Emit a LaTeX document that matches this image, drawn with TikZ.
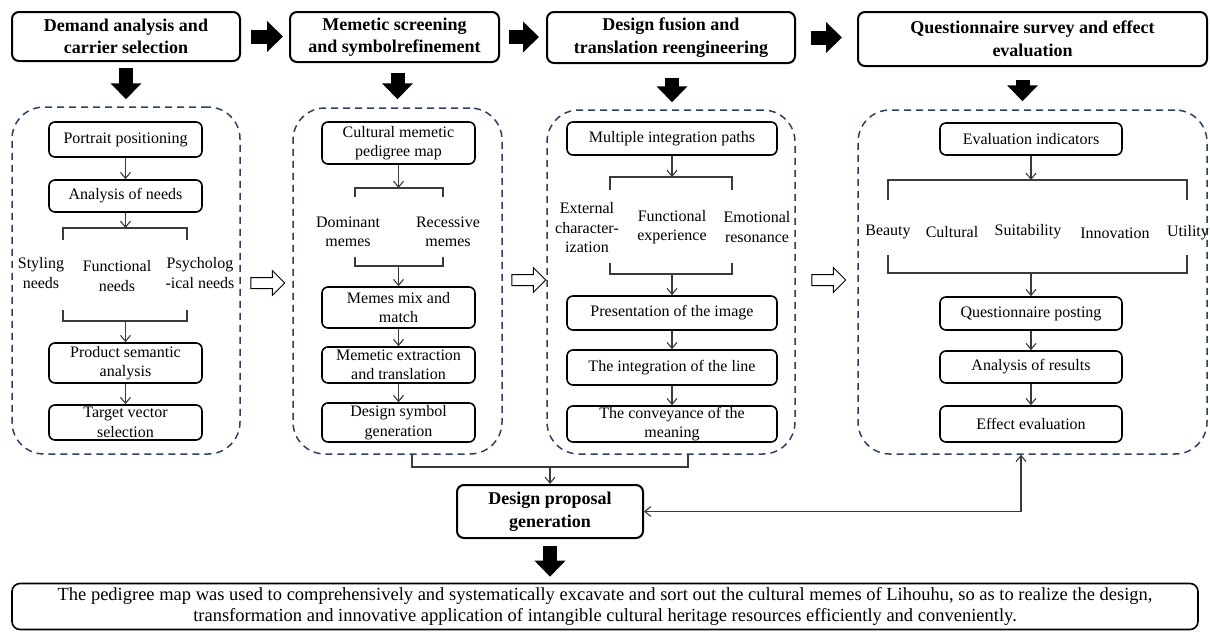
\documentclass[tikz,border=0pt]{standalone}
\usepackage{fontspec}
\setmainfont{Liberation Serif}
\usetikzlibrary{arrows.meta,shapes.arrows}
\definecolor{navy}{HTML}{2C4063}
\definecolor{lgray}{HTML}{3A3A3A}
\newcommand\myBody{\fontsize{16}{19.5}\selectfont}
\newcommand\myHead{\bfseries\fontsize{18}{22.5}\selectfont}
\newcommand\myFoot{\fontsize{18.5}{20.5}\selectfont}
\tikzset{
 box/.style={draw=black, line width=1.6pt, rounded corners=6pt, align=center, inner sep=0pt, font=\myBody},
 head/.style={draw=black, line width=2pt, rounded corners=7pt, align=center, inner sep=0pt, font=\myHead},
 cont/.style={draw=navy, line width=1.5pt, dash pattern=on 7pt off 5pt, rounded corners=32pt, inner sep=0pt},
 arr/.style={draw=lgray, line width=1.1pt, -{Straight Barb[length=6pt,width=10pt]}},
 dbl/.style={draw=lgray, line width=1.1pt, {Straight Barb[length=6pt,width=10pt]}-{Straight Barb[length=6pt,width=10pt]}},
 ln/.style={draw=lgray, line width=1.1pt},
 lab/.style={align=center, font=\myBody, inner sep=0pt},
 bigarr/.style={draw=black, line width=14pt, -{Triangle[width=30pt,length=16pt]}},
 hollow/.style={single arrow, draw=black, fill=white, line width=1pt, minimum height=34pt, inner sep=5pt, single arrow head extend=7pt, single arrow head indent=0pt},
}
\begin{document}
\begin{tikzpicture}[x=1pt,y=-1pt]
\useasboundingbox (0,0) rectangle (1210,632);
% headers
\node[head, minimum width=228, minimum height=49] (h1) at (126,36.5) {Demand analysis and\\carrier selection};
\node[head, minimum width=209, minimum height=50] (h2) at (394.5,37) {Memetic screening\\and symbolrefinement};
\node[head, minimum width=248, minimum height=51] (h3) at (671,37.5) {Design fusion and\\translation reengineering};
\node[head, minimum width=349, minimum height=54] (h4) at (1032.5,39) {Questionnaire survey and effect\\evaluation};
% containers
\node[cont, minimum width=228, minimum height=347] (c1) at (126,280.5) {};
\node[cont, minimum width=209, minimum height=346] (c2) at (397.5,281) {};
\node[cont, minimum width=248, minimum height=344] (c3) at (671,282) {};
\node[cont, minimum width=349, minimum height=344] (c4) at (1032.5,282) {};
% header arrows
\draw[bigarr, shorten <=10pt, shorten >=6pt] (h1.east) -- (h1.east -| h2.west);
\draw[bigarr, shorten <=9pt, shorten >=7pt] (h2.east) -- (h2.east -| h3.west);
\draw[bigarr, shorten <=15pt, shorten >=15pt] (h3.east) -- (h3.east -| h4.west);
\draw[bigarr, shorten <=6pt, shorten >=7pt] (h1.south) -- (c1.north);
\draw[bigarr, shorten <=10pt, shorten >=8pt] (h2.south -| c2.north) -- (c2.north);
\draw[bigarr, shorten <=14pt, shorten >=7pt] ([xshift=1pt]h3.south) -- ([xshift=1pt]c3.north);
\draw[bigarr, shorten <=13pt, shorten >=8pt] ([xshift=-10pt]h4.south) -- ([xshift=-10pt]c4.north);
% hollow arrows
\node[hollow] (ha1) at (265,283) {};
\node[hollow] (ha2) at (526,280) {};
\node[hollow] (ha3) at (826,280) {};
% column 1
\node[box, minimum width=153, minimum height=35] (p1) at (125.5,139.5) {Portrait positioning};
\node[box, minimum width=153, minimum height=32] (p2) at (125.5,196) {Analysis of needs};
\node[box, minimum width=153, minimum height=40] (p3) at (125.5,363) {Product semantic\\analysis};
\node[box, minimum width=153, minimum height=35] (p4) at (125.5,422.5) {Target vector\\selection};
\coordinate (b1t) at (125.5,228);
\coordinate (b1b) at (125.5,321);
\draw[arr] (p1) -- (p2);
\draw[arr] (p2) -- (b1t);
\draw[ln] (63,240) -- (63,228) -- (187,228) -- (187,240);
\node[lab] (l11) at (41,273) {Styling\\needs};
\node[lab] (l12) at (117,276) {Functional\\needs};
\node[lab] (l13) at (200,273) {Psycholog\\-ical needs};
\draw[ln] (63,310) -- (63,321) -- (187,321) -- (187,310);
\draw[arr] (b1b) -- (p3);
\draw[arr] (p3) -- (p4);
% column 2
\node[box, minimum width=153, minimum height=42] (m1) at (398.5,143) {Cultural memetic\\pedigree map};
\node[box, minimum width=153, minimum height=41] (m2) at (398.5,307.5) {Memes mix and\\match};
\node[box, minimum width=153, minimum height=36] (m3) at (398.5,365) {Memetic extraction\\and translation};
\node[box, minimum width=153, minimum height=39] (m4) at (398.5,422.5) {Design symbol\\generation};
\coordinate (b2t) at (398.5,188);
\coordinate (b2b) at (398.5,266);
\draw[arr] (m1) -- (b2t);
\draw[ln] (355,197) -- (355,188) -- (443,188) -- (443,197);
\node[lab] (l21) at (348,232) {Dominant\\memes};
\node[lab] (l22) at (448,232) {Recessive\\memes};
\draw[ln] (355,257) -- (355,266) -- (443,266) -- (443,257);
\draw[arr] (b2b) -- (m2);
\draw[arr] (m2) -- (m3);
\draw[arr] (m3) -- (m4);
% column 3
\node[box, minimum width=210, minimum height=33] (d1) at (672,138.5) {Multiple integration paths};
\node[box, minimum width=210, minimum height=34] (d2) at (672,313) {Presentation of the image};
\node[box, minimum width=210, minimum height=35] (d3) at (672,367.5) {The integration of the line};
\node[box, minimum width=210, minimum height=36] (d4) at (672,424) {The conveyance of the\\meaning};
\coordinate (b3t) at (672,177);
\coordinate (b3b) at (672,274);
\draw[arr] (d1) -- (b3t);
\draw[ln] (610,190) -- (610,177) -- (732,177) -- (732,190);
\node[lab] (l31) at (587,228) {External\\character-\\ization};
\node[lab] (l32) at (672,227) {Functional\\experience};
\node[lab] (l33) at (757,227) {Emotional\\resonance};
\draw[ln] (610,263) -- (610,274) -- (732,274) -- (732,263);
\draw[arr] (b3b) -- (d2);
\draw[arr] (d2) -- (d3);
\draw[arr] (d3) -- (d4);
% column 4
\node[box, minimum width=182, minimum height=32] (e1) at (1031,139) {Evaluation indicators};
\node[box, minimum width=182, minimum height=33] (e2) at (1031,313.5) {Questionnaire posting};
\node[box, minimum width=182, minimum height=32] (e3) at (1031,367) {Analysis of results};
\node[box, minimum width=182, minimum height=36] (e4) at (1031,424) {Effect evaluation};
\coordinate (b4t) at (1031,180);
\coordinate (b4b) at (1031,273);
\draw[arr] (e1) -- (b4t);
\draw[ln] (888,200) -- (888,180) -- (1187,180) -- (1187,200);
\node[lab] (l41) at (888,232) {Beauty};
\node[lab] (l42) at (952,232) {Cultural};
\node[lab] (l43) at (1028,232) {Suitability};
\node[lab] (l44) at (1115,233) {Innovation};
\node[lab] (l45) at (1188,233) {Utility};
\draw[ln] (888,255) -- (888,273) -- (1187,273) -- (1187,255);
\draw[arr] (b4b) -- (e2);
\draw[arr] (e2) -- (e3);
\draw[arr] (e3) -- (e4);
% bottom
\node[head, minimum width=186, minimum height=53] (dp) at (550,511.5) {Design proposal\\generation};
\coordinate (jl) at (412,467);
\coordinate (jr) at (688,467);
\draw[ln] (jl |- c2.south) -- (jl) -- (jr) -- (jr |- c3.south);
\draw[arr] (dp.north |- jl) -- (dp.north);
\draw[dbl] (dp.east) -| ([xshift=-11.5pt]c4.south);
\node[box, rounded corners=8pt, minimum width=1186, minimum height=46, font=\myFoot] (bot) at (605,606.5) {The pedigree map was used to comprehensively and systematically excavate and sort out the cultural memes of Lihouhu, so as to realize the design,\\transformation and innovative application of intangible cultural heritage resources efficiently and conveniently.};
\draw[bigarr, shorten <=7pt, shorten >=6pt] (dp.south) -- (dp.south |- bot.north);
\end{tikzpicture}
\end{document}
